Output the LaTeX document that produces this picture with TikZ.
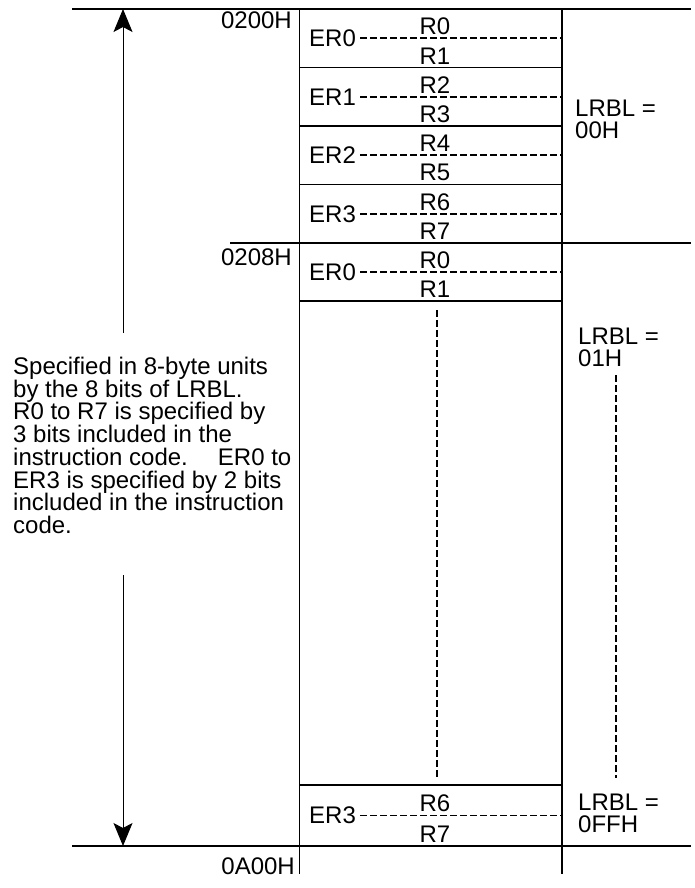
\documentclass[tikz,border=0pt]{standalone}
\usepackage{fontspec}
\setmainfont{Liberation Sans}
\usetikzlibrary{arrows.meta}

\begin{document}
\begin{tikzpicture}[
    x=1pt, y=-1pt,
    every node/.style={font=\fontsize{24}{22.7}\selectfont, inner sep=0pt},
    frame/.style={draw=black, line width=1.3pt},
    regdash/.style={draw=black, line width=1.7pt, dash pattern=on 6.5pt off 3.5pt},
    span/.style={draw=black, line width=1pt, -{Stealth[length=23pt, width=19pt, inset=5pt]}}
]

\useasboundingbox (0,0) rectangle (695,888);

% ----------------------------------------------------
% Frame lines
% ----------------------------------------------------
\path[frame] (72,9) -- (691,9);
\path[frame] (230,243) -- (691,243);
\path[frame] (72,846) -- (691,846);
\path[frame] (299.5,9) -- (299.5,874);
\path[frame] (562,9) -- (562,874);

% row separators
\foreach \y in {67.5,126,184.5,301,785}
    \path[frame] (299.5,\y) -- (562,\y);

% ----------------------------------------------------
% Register rows: name, top, height, ER, R even, R odd
% ----------------------------------------------------
\newcommand{\regrow}[6]{%
\node[anchor=west, inner xsep=4pt] (#1) at (305,#2+0.5*#3) {#4};
\coordinate (#1end) at (562,#2+0.5*#3);
\path[regdash] (#1) -- (#1end);
\node (#1a) at (435,#2+0.3*#3) {#5};
\node (#1b) at (435,#2+0.8*#3) {#6};
}

\regrow{erA}{9}{58.5}{ER0}{R0}{R1}
\regrow{erB}{67.5}{58.5}{ER1}{R2}{R3}
\regrow{erC}{126}{58.5}{ER2}{R4}{R5}
\regrow{erD}{184.5}{58.5}{ER3}{R6}{R7}
\regrow{erE}{243}{58}{ER0}{R0}{R1}
\regrow{erF}{785}{61}{ER3}{R6}{R7}

% ----------------------------------------------------
% Omitted area
% ----------------------------------------------------
\coordinate (gaptop) at (437,310);
\coordinate (gapbot) at (437,778);
\coordinate (lrbltop) at (616,375);
\coordinate (lrblbot) at (616,778);
\path[regdash] (gaptop) -- (gapbot);
\path[regdash] (lrbltop) -- (lrblbot);

% ----------------------------------------------------
% Addresses and LRBL values
% ----------------------------------------------------
\node[anchor=east] (adrA) at (292,20) {0200H};
\node[anchor=east] (adrB) at (292,257) {0208H};
\node[anchor=east] (adrC) at (295,866) {0A00H};

\node[anchor=north west, align=left, font=\fontsize{24}{22}\selectfont] (lrblA) at (575,100) {LRBL =\\00H};
\node[anchor=north west, align=left, font=\fontsize{24}{22}\selectfont] (lrblB) at (578,328) {LRBL =\\01H};
\node[anchor=north west, align=left, font=\fontsize{24}{22}\selectfont] (lrblC) at (578,794) {LRBL =\\0FFH};

% ----------------------------------------------------
% Span arrow and note
% ----------------------------------------------------
\coordinate (spantop) at (123,9);
\coordinate (spanbot) at (123,846);
\coordinate (notetop) at (123,333);
\coordinate (notebot) at (123,575);
\path[span] (notetop) -- (spantop);
\path[span] (notebot) -- (spanbot);

\node[anchor=north west, align=left] (note) at (13,357) {Specified in 8-byte units\\by the 8 bits of LRBL.\\R0 to R7 is specified by\\3 bits included in the\\instruction code.\hspace{30pt}ER0 to\\ER3 is specified by 2 bits\\included in the instruction\\code.};

\end{tikzpicture}
\end{document}
